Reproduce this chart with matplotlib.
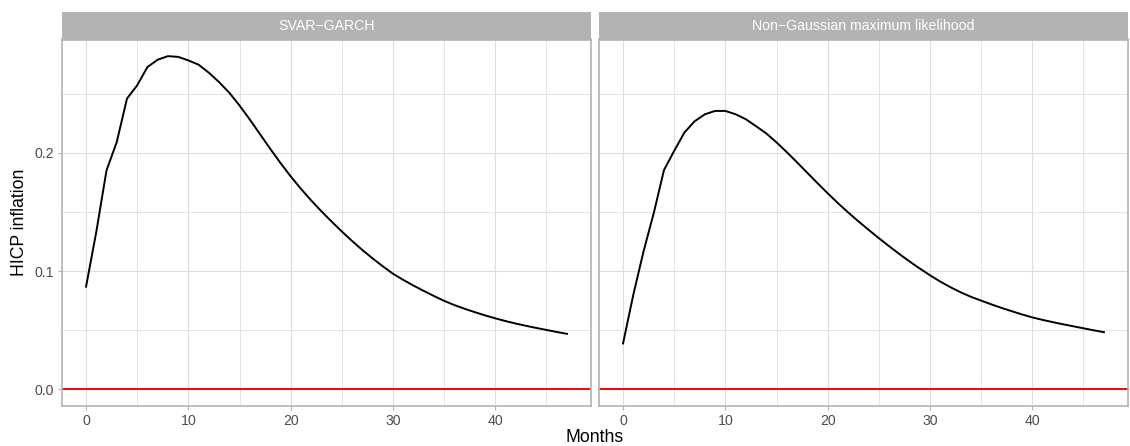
##########Import Libraries##########
import matplotlib
matplotlib.use('Agg')
import matplotlib.pyplot as plt

##########Data##########
months = list(range(48))

#Impulse response, SVAR-GARCH
svar_garch = [0.0868, 0.133, 0.185, 0.209, 0.2457, 0.257, 0.2724, 0.2786, 0.2816, 0.2810,
              0.2780, 0.2744, 0.2676, 0.2597, 0.2507, 0.2399, 0.2281, 0.2157, 0.2033, 0.1913,
              0.1800, 0.1695, 0.1597, 0.1505, 0.1418, 0.1334, 0.1254, 0.1178, 0.1107, 0.1040,
              0.0977, 0.0925, 0.0877, 0.0832, 0.0789, 0.0748, 0.0712, 0.0681, 0.0652, 0.0625,
              0.0600, 0.0577, 0.0556, 0.0537, 0.0519, 0.0502, 0.0485, 0.0469]

#Impulse response, non-Gaussian ML
ngml = [0.0388, 0.0798, 0.1165, 0.1489, 0.1853, 0.2016, 0.2171, 0.2266, 0.2325, 0.2353,
        0.2353, 0.2325, 0.2283, 0.2224, 0.2163, 0.2087, 0.2005, 0.1919, 0.1831, 0.1743,
        0.1657, 0.1574, 0.1495, 0.1420, 0.1348, 0.1278, 0.1210, 0.1144, 0.1081, 0.1021,
        0.0964, 0.0911, 0.0863, 0.0820, 0.0782, 0.0750, 0.0718, 0.0688, 0.0660, 0.0633,
        0.0608, 0.0587, 0.0568, 0.0550, 0.0533, 0.0516, 0.0499, 0.0483]

panel_titles = ['SVAR\u2212GARCH', 'Non\u2212Gaussian maximum likelihood']
series = [svar_garch, ngml]

##########Style##########
plt.rcParams['font.family'] = ['Liberation Sans', 'DejaVu Sans']
W, H = 1130, 446
grid_col = '#DEDEDE'
border_col = '#B3B3B3'
small = 10.2   #tick labels and strips
big = 12.7     #axis titles

fig = plt.figure(figsize=(W / 100, H / 100), dpi=100)

#Panel positions in pixels (left, right)
panels = [(62, 591), (599, 1128)]
top, bottom, strip_top = 39.5, 406, 12

#ggplot style 5% expansion
xlo = -0.05 * 47
xhi = 47 + 0.05 * 47
yhi_data = max(max(svar_garch), max(ngml))
ylo = -0.05 * yhi_data
yhi = yhi_data + 0.05 * yhi_data

for i, (x0, x1) in enumerate(panels):
    ax = fig.add_axes([x0 / W, (H - bottom) / H, (x1 - x0) / W, (bottom - top) / H])

    #Gridlines
    ax.set_xticks([0, 10, 20, 30, 40])
    ax.set_xticks([5, 15, 25, 35, 45], minor=True)
    ax.set_yticks([0.0, 0.1, 0.2])
    ax.set_yticks([0.05, 0.15, 0.25], minor=True)
    ax.grid(True, which='major', color=grid_col, linewidth=0.85)
    ax.grid(True, which='minor', color=grid_col, linewidth=0.6)
    ax.set_axisbelow(True)

    #Zero line and response
    ax.axhline(0, color='red', linewidth=1.4)
    ax.plot(months, series[i], color='black', linewidth=1.4)

    ax.set_xlim(xlo, xhi)
    ax.set_ylim(ylo, yhi)

    for s in ax.spines.values():
        s.set_color(border_col)
        s.set_linewidth(1.2)

    ax.tick_params(which='major', length=3.2, width=0.8, color=border_col,
                   labelcolor='#4D4D4D', labelsize=small, pad=2.5)
    ax.tick_params(which='minor', length=0)
    if i == 0:
        ax.set_yticklabels(['0.0', '0.1', '0.2'])
        ax.set_ylabel('HICP inflation', fontsize=big, labelpad=5)
    else:
        ax.tick_params(axis='y', which='both', left=False, labelleft=False)

    #Facet strip
    sax = fig.add_axes([x0 / W, (H - top) / H, (x1 - x0) / W, (top - strip_top) / H])
    sax.set_facecolor('#B3B3B3')
    sax.set_xticks([])
    sax.set_yticks([])
    for s in sax.spines.values():
        s.set_visible(False)
    sax.text(0.5, 0.5, panel_titles[i], color='white', fontsize=small,
             ha='center', va='center', transform=sax.transAxes)

#Shared x label
fig.text((62 + 1128) / 2 / W, 1 - 437 / H, 'Months', fontsize=big, ha='center', va='center')

plt.savefig('out.png', dpi=100)
